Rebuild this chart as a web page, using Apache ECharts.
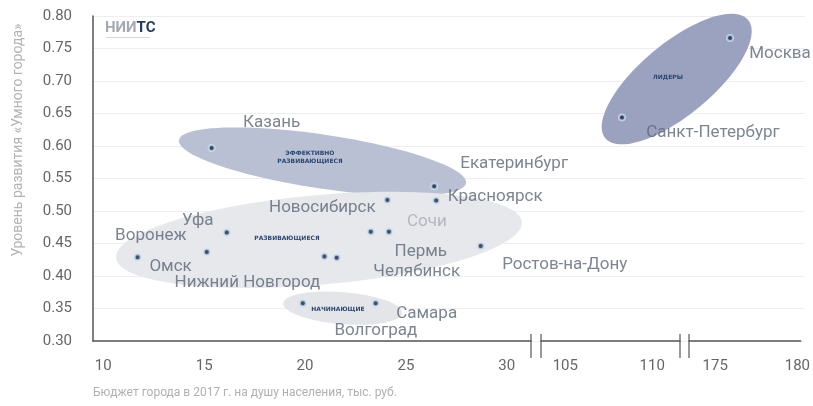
<!DOCTYPE html>
<html><head><meta charset="utf-8">
<script src="https://cdn.jsdelivr.net/npm/echarts@6.0.0/dist/echarts.min.js"></script>
<style>html,body{margin:0;padding:0;background:#fff}#c{width:813px;height:406px}</style>
</head><body><div id="c"></div>
<script>
// ---- data ----
const cities = ['Казань','Уфа','Воронеж','Омск','Нижний Новгород','Новосибирск','Сочи','Пермь','Челябинск','Екатеринбург','Красноярск','Ростов-на-Дону','Самара','Волгоград','Санкт-Петербург','Москва'];
const budget = [15.37,16.12,15.13,11.70,20.96,24.08,24.16,23.26,21.57,26.40,26.50,28.71,23.50,19.89,108.26,175.9];
const smartIndex = [0.597,0.467,0.437,0.429,0.430,0.517,0.468,0.468,0.428,0.538,0.516,0.446,0.358,0.358,0.644,0.766];
const yTicks = [0.30,0.35,0.40,0.45,0.50,0.55,0.60,0.65,0.70,0.75,0.80];
const xTicks1 = [10,15,20,25,30];
const xTicks2 = [105,110];
const xTicks3 = [175,180];
const zoneNames = ['ЛИДЕРЫ','ЭФФЕКТИВНО\nРАЗВИВАЮЩИЕСЯ','РАЗВИВАЮЩИЕСЯ','НАЧИНАЮЩИЕ'];
const zoneEndA = [[107.3,0.612],[13.75,0.609],[10.63,0.428],[18.92,0.358]];
const zoneEndB = [[177.0,0.794],[27.98,0.543],[30.75,0.483],[24.81,0.343]];
const zoneHalfWidth = [0.0554,0.0415,0.069,0.0246];
const zoneLabelAt = [[110.9,0.706],[20.24,0.582],[19.10,0.458],[21.63,0.348]];
const xTitle = 'Бюджет города в 2017 г. на душу населения, тыс. руб.';
const yTitle = 'Уровень развития «Умного города»';

// ---- layout / style ----
const labelOffset = {
  'Казань':[60,-25],'Уфа':[-29,-12],'Воронеж':[-56,-16],'Омск':[33,10],'Нижний Новгород':[-77,26],
  'Новосибирск':[-65,8],'Сочи':[38,-10],'Пермь':[50,20],'Челябинск':[80,14],'Екатеринбург':[80,-23],
  'Красноярск':[59,-4],'Ростов-на-Дону':[84,19],'Самара':[51,10],'Волгоград':[73,27],
  'Москва':[50,16],'Санкт-Петербург':[91,15]
};
const zoneColors = ['#9aa2bf','#b9c0d3','#e6e8ec','#e3e5e9'];
const TOP = 16, BOTTOM = 65;
const segRanges = [[9.49,31.2],[103.6,111.6],[173.4,180.2]];
const segBox = [[93,282],[541,133],[689,12]];
const segTicks = [xTicks1, xTicks2, xTicks3];
function segOf(x){ return x < 60 ? 0 : (x < 150 ? 1 : 2); }

const chart = echarts.init(document.getElementById('c'), null, {renderer:'canvas'});
const grids = [{left:93,right:8,top:TOP,bottom:BOTTOM}];
const xAxes = [{gridIndex:0,type:'value',min:0,max:1,show:false}];
const yAxes = [{gridIndex:0,type:'value',min:yTicks[0],max:yTicks[yTicks.length-1],interval:0.05,
  axisLine:{show:true,lineStyle:{color:'#555',width:1.5}},axisTick:{show:false},
  splitLine:{show:true,lineStyle:{color:'#eeeeee',width:1}},
  axisLabel:{color:'#666',fontSize:15,fontFamily:'Roboto',margin:21,formatter:v=>v.toFixed(2)}}];
const series = [];
for (let s=0;s<3;s++){
  grids.push({left:segBox[s][0],right:segBox[s][1],top:TOP,bottom:BOTTOM});
  xAxes.push({gridIndex:s+1,type:'value',min:segRanges[s][0],max:segRanges[s][1],
    axisLine:{show:true,lineStyle:{color:'#555',width:1.5}},axisTick:{show:false},splitLine:{show:false},
    axisLabel:{color:'#666',fontSize:15,fontFamily:'Roboto',margin:18,customValues:segTicks[s],hideOverlap:false}});
  yAxes.push({gridIndex:s+1,type:'value',min:0.3,max:0.8,show:false});
  const pts = [];
  cities.forEach((c,i)=>{ if (segOf(budget[i])===s) pts.push({name:c,value:[budget[i],smartIndex[i]],
      label:{offset:labelOffset[c], color: c==='Сочи' ? '#a7abb3' : '#5c6577'}}); });
  series.push({type:'scatter',xAxisIndex:s+1,yAxisIndex:s+1,z:5,symbolSize:6,
    itemStyle:{color:'#16294a',borderColor:'rgba(205,225,245,0.95)',borderWidth:2},
    label:{show:true,position:'inside',formatter:p=>p.name,fontSize:17,fontFamily:'Roboto'},
    emphasis:{disabled:true},data:pts});
}
chart.setOption({animation:false,backgroundColor:'#fff',grid:grids,xAxis:xAxes,yAxis:yAxes,series:series});

function px(pt){ const k = segOf(pt[0])+1; return chart.convertToPixel({xAxisIndex:k,yAxisIndex:k},pt); }
const graphics = [];
zoneNames.forEach((n,i)=>{
  const A = px(zoneEndA[i]), B = px(zoneEndB[i]);
  const cx=(A[0]+B[0])/2, cy=(A[1]+B[1])/2;
  const a = Math.hypot(B[0]-A[0],B[1]-A[1])/2, th = Math.atan2(B[1]-A[1],B[0]-A[0]);
  const y0 = px([zoneEndA[i][0],0.5]), y1 = px([zoneEndA[i][0],0.5+zoneHalfWidth[i]]);
  const b = Math.abs(y0[1]-y1[1]);
  const pts=[];
  for (let k=0;k<96;k++){ const t=k/96*Math.PI*2;
    pts.push([cx + a*Math.cos(t)*Math.cos(th) - b*Math.sin(t)*Math.sin(th),
              cy + a*Math.cos(t)*Math.sin(th) + b*Math.sin(t)*Math.cos(th)]); }
  graphics.push({type:'polygon',z:1,silent:true,shape:{points:pts},style:{fill:zoneColors[i]}});
  const L = px(zoneLabelAt[i]);
  graphics.push({type:'text',z:3,silent:true,x:L[0],y:L[1],style:{text:n,fill:'#2b4770',font:'bold 6px "DejaVu Sans"',
    align:'center',verticalAlign:'middle',lineHeight:8}});
});
// axis break marks
[[531,541],[680,689]].forEach(pr=>pr.forEach(x=>graphics.push({type:'line',z:10,silent:true,
  shape:{x1:x,y1:334,x2:x,y2:358},style:{stroke:'#555',lineWidth:1.2}})));
// titles
graphics.push({type:'text',z:10,silent:true,x:18,y:140,rotation:Math.PI/2,
  style:{text:yTitle,fill:'#b3b3b3',font:'14px Roboto',align:'center',verticalAlign:'middle'}});
graphics.push({type:'text',z:10,silent:true,x:93,y:393,
  style:{text:xTitle,fill:'#b0b0b0',font:'12px Roboto',align:'left',verticalAlign:'middle'}});
// logo
graphics.push({type:'text',z:10,silent:true,x:105,y:28,
  style:{text:'{a|НИИ}{b|ТС}',verticalAlign:'middle',rich:{a:{fill:'#a4a9b3',font:'bold 15px Roboto'},b:{fill:'#1f3a5f',font:'bold 15px Roboto'}}}});
graphics.push({type:'rect',z:10,silent:true,shape:{x:106,y:37,width:44,height:1},style:{fill:'#d3d6db'}});
chart.setOption({graphic:graphics});
</script></body></html>
